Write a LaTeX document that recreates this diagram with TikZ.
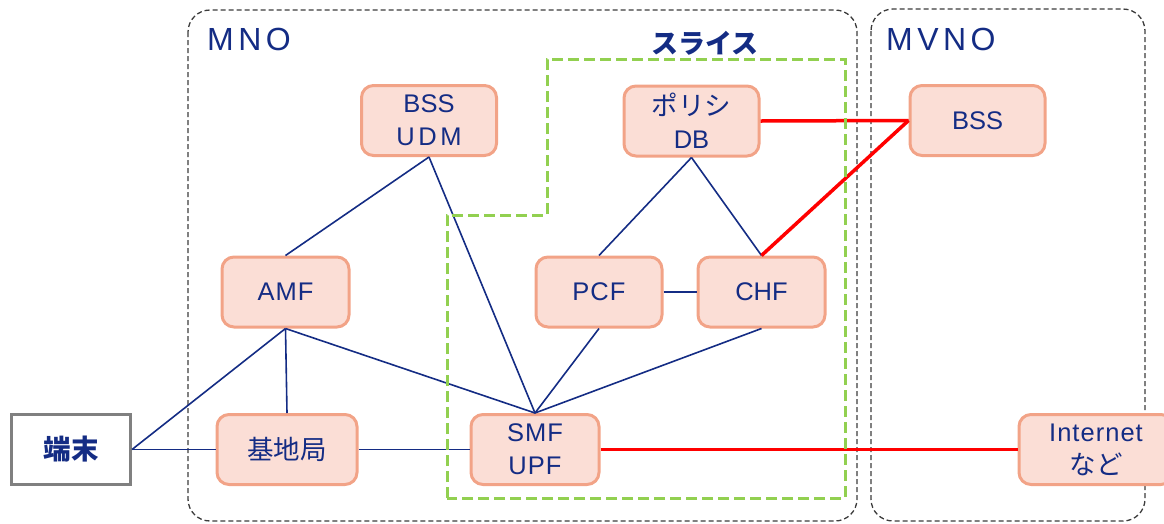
\documentclass[tikz,border=0pt]{standalone}
\usepackage{fontspec}
\setmainfont{Liberation Sans}
\newfontfamily\jp{Noto Sans CJK JP}
\definecolor{navy}{RGB}{20,44,132}
\definecolor{boxfill}{RGB}{251,222,214}
\definecolor{boxline}{RGB}{242,163,135}
\definecolor{zonegray}{RGB}{60,60,60}
\definecolor{slicegreen}{RGB}{146,208,80}
\definecolor{termgray}{RGB}{128,128,128}
\begin{document}
\begin{tikzpicture}[x=1pt,y=-1pt,
  fn/.style={draw=boxline, fill=boxfill, line width=3pt, rounded corners=12pt,
    text=navy, font=\fontsize{25.5}{33}\selectfont, align=center, inner sep=0pt,
    minimum width=130pt, minimum height=70pt},
  term/.style={draw=termgray, fill=white, line width=3pt, text=navy,
    font=\jp\bfseries\fontsize{27.5}{30}\selectfont, inner sep=0pt,
    minimum width=119pt, minimum height=70pt},
  link/.style={draw=navy, line width=1.6pt},
  redlink/.style={draw=red, line width=3.5pt},
  zone/.style={draw=zonegray, line width=1.3pt, dash pattern=on 5pt off 3pt,
    rounded corners=22pt},
  slice/.style={draw=slicegreen, line width=3pt, dash pattern=on 11pt off 5pt},
  zonelabel/.style={text=navy, anchor=base west, inner sep=0pt,
    font=\fontsize{32}{36}\selectfont\addfontfeature{LetterSpace=14}},
  wide/.style={font=\fontsize{25.5}{33}\selectfont\addfontfeature{LetterSpace=4}}
]
\useasboundingbox (0,0) rectangle (1164,523);

% operator areas
\draw[zone] (188,10) rectangle (857,521);
\draw[zone] (871,9) rectangle (1145,521);
\node[zonelabel] (mnolbl) at (207,50) {MNO};
\node[zonelabel] (mvnolbl) at (886,50) {MVNO};

% network functions
\node[fn, minimum width=135pt] (udm) at (429,120.5)
  {BSS\\{\addfontfeature{LetterSpace=14}UDM}};
\node[fn, minimum width=135pt] (pdb) at (691.5,121) {{\jp\fontsize{26.5}{30}\selectfont ポリシ}\\DB};
\node[fn, minimum width=135pt] (bss) at (977.5,120.5) {BSS};
\node[fn, minimum width=127pt, wide] (amf) at (285.5,292) {AMF};
\node[fn, minimum width=126pt, wide] (pcf) at (599,292) {PCF};
\node[fn, minimum width=127pt] (chf) at (761.5,292) {CHF};
\node[fn, minimum width=140pt, font=\jp\fontsize{26.5}{30}\selectfont] (bs) at (287,449.5) {基地局};
\node[fn, minimum width=128pt, wide] (smf) at (535,449.5) {SMF\\UPF};
\node[fn, minimum width=154pt, wide] (inet) at (1096,449.5) {Internet\\{\jp\fontsize{26.5}{30}\selectfont など}};
\node[term] (ue) at (71,449.5) {端末};

% control and user plane links
\draw[link] (udm.south) -- (amf.north);
\draw[link] (udm.south) -- (smf.north);
\draw[link] (pdb.south) -- (pcf.north);
\draw[link] (pdb.south) -- (chf.north);
\draw[link] (pcf.east) -- (chf.west);
\draw[link] (pcf.south) -- (smf.north);
\draw[link] (chf.south) -- (smf.north);
\draw[link] (amf.south) -- (smf.north);
\draw[link] (amf.south) -- (bs.north);
\draw[link] (amf.south) -- (ue.east);
\draw[link] (ue.east) -- (bs.west);
\draw[link] (bs.east) -- (smf.west);

% links to the MVNO
\draw[redlink] (pdb.east) -- (bss.west);
\draw[redlink] (chf.north) -- (bss.west);
\draw[redlink] (smf.east) -- (inet.west);

% network slice
\draw[slice] (447,498) -- (447,215) -- (547,215) -- (547,59) -- (845,59) -- (845,498) -- cycle;
\node[text=navy, font=\jp\bfseries\fontsize{27}{30}\selectfont, inner sep=0pt] (slicelbl) at (705,43) {スライス};
\end{tikzpicture}
\end{document}
